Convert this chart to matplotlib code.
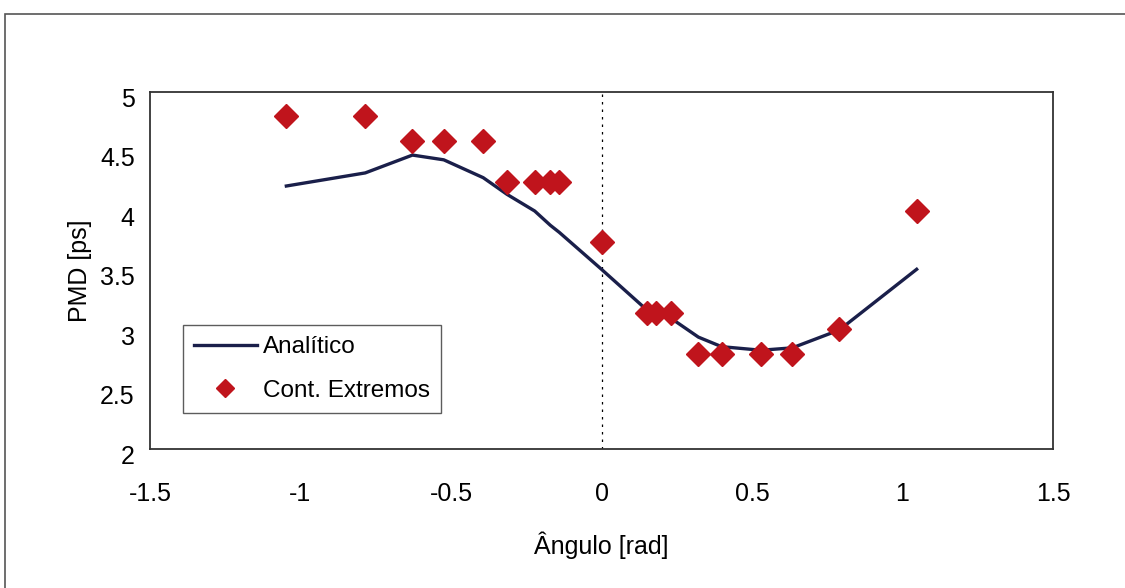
import matplotlib.pyplot as plt
from matplotlib.patches import Rectangle
from matplotlib.transforms import ScaledTranslation

plt.rcParams['font.family'] = ['Liberation Sans', 'DejaVu Sans']

# angle [rad] and PMD [ps]
angulo = [-1.047, -0.785, -0.628, -0.524, -0.393, -0.314, -0.222, -0.170, -0.140,
          0.0, 0.150, 0.181, 0.230, 0.322, 0.399, 0.530, 0.634, 0.790, 1.047]
pmd_analitico = [4.21, 4.32, 4.47, 4.43, 4.28, 4.14, 4.00, 3.88, 3.82,
                 3.51, 3.17, 3.14, 3.10, 2.94, 2.86, 2.83, 2.85, 3.00, 3.51]
pmd_extremos = [4.80, 4.80, 4.59, 4.59, 4.59, 4.24, 4.24, 4.24, 4.24,
                3.74, 3.14, 3.14, 3.14, 2.80, 2.80, 2.80, 2.80, 3.01, 4.00]

fig = plt.figure(figsize=(11.25, 5.88), dpi=100)
ax = fig.add_axes([150 / 1125, 1 - 449 / 588, 903 / 1125, 357 / 588])

# outer chart frame
fig.patches.append(Rectangle((5 / 1125, -0.05), 1.1, 1 - 14 / 588 + 0.05,
                             transform=fig.transFigure, fill=False,
                             edgecolor='#555555', linewidth=1.2))

ax.axvline(0, color='black', linestyle=(0, (2, 4)), linewidth=0.9)
ax.plot(angulo, pmd_analitico, color='#1a1f4a', linewidth=2.4, label='Analítico')
ax.plot(angulo, pmd_extremos, linestyle='none', marker='D', markersize=12,
        color='#c0141c', label='Cont. Extremos')

ax.set_xlim(-1.5, 1.5)
ax.set_ylim(2, 5)
ax.set_xticks([-1.5, -1, -0.5, 0, 0.5, 1, 1.5])
ax.set_xticklabels(['-1.5', '-1', '-0.5', '0', '0.5', '1', '1.5'])
ax.set_yticks([2, 2.5, 3, 3.5, 4, 4.5, 5])
ax.set_yticklabels(['2', '2.5', '3', '3.5', '4', '4.5', '5'])
ax.tick_params(axis='both', labelsize=18, length=0)
ax.tick_params(axis='x', pad=24)
ax.tick_params(axis='y', pad=11)
shift = ScaledTranslation(0, -5 / 100, fig.dpi_scale_trans)
for lbl in ax.get_yticklabels():
    lbl.set_transform(lbl.get_transform() + shift)
for s in ax.spines.values():
    s.set_linewidth(1.3)
    s.set_color('#333333')

ax.set_xlabel('Ângulo [rad]', fontsize=18, labelpad=18)
ax.set_ylabel('PMD [ps]', fontsize=18, labelpad=6)

leg = ax.legend(loc='lower left', bbox_to_anchor=(0.0365, 0.101), fontsize=17.5,
                frameon=True, fancybox=False, edgecolor='#333333',
                borderaxespad=0, handlelength=2.6, borderpad=0.45,
                labelspacing=0.9, handletextpad=0.25, markerscale=0.75)
leg.get_frame().set_linewidth(1.0)

fig.savefig('out.png', dpi=100)
